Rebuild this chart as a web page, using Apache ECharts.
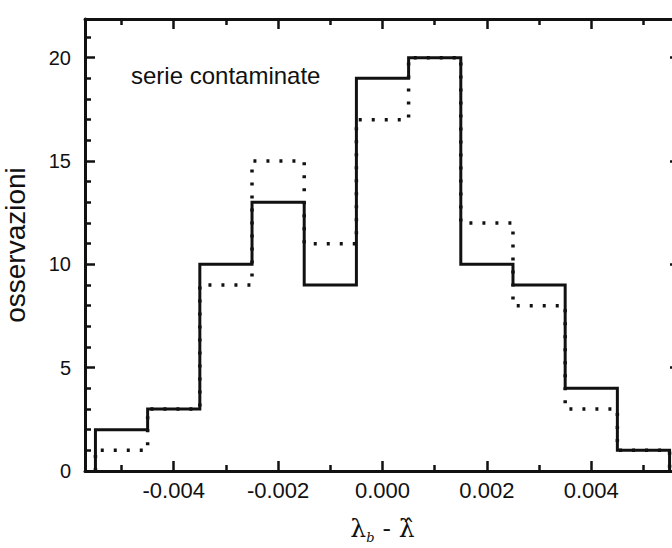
<!DOCTYPE html>
<html><head><meta charset="utf-8">
<script src="https://cdn.jsdelivr.net/npm/echarts@6/dist/echarts.min.js"></script>
<style>html,body{margin:0;padding:0;background:#fff;overflow:hidden}#c{width:672px;height:548px}</style>
</head><body><div id="c"></div>
<script>
// Bin edges (bin width 0.001, centred on -0.005 ... 0.005)
const binEdges = [-0.0055, -0.0045, -0.0035, -0.0025, -0.0015, -0.0005, 0.0005, 0.0015, 0.0025, 0.0035, 0.0045, 0.0055];
// Observations per bin
const solidCounts  = [2, 3, 10, 13, 9, 19, 20, 10, 9, 4, 1];
const dottedCounts = [1, 3, 9, 15, 11, 17, 20, 12, 8, 3, 1];
// Ticks
const xMajorTicks = [-0.004, -0.002, 0, 0.002, 0.004];
const xMinorTicks = [-0.005, -0.003, -0.001, 0.001, 0.003, 0.005];
const yMajorTicks = [0, 5, 10, 15, 20];
const yMinorTicks = [1, 2, 3, 4, 6, 7, 8, 9, 11, 12, 13, 14, 16, 17, 18, 19, 21];
const xRange = [-0.0057, 0.0057];
const yRange = [0, 21.87];
const titleText = 'serie contaminate';
const yName = 'osservazioni';

function stepData(counts) {
  const d = [[binEdges[0], 0]];
  counts.forEach((c, i) => d.push([binEdges[i], c]));
  d.push([binEdges[binEdges.length - 1], 0]);
  return d;
}

const INK = '#111';
const FONT = 'Liberation Sans, Arial, Helvetica, sans-serif';

function xAx(pos, major, opts) {
  return Object.assign({
    type: 'value', min: xRange[0], max: xRange[1], position: pos,
    axisLine: { show: major, onZero: false, lineStyle: { color: INK, width: 3 } },
    axisTick: { show: true, inside: true, length: major ? 10 : 6,
      customValues: major ? xMajorTicks : xMinorTicks,
      lineStyle: { color: INK, width: 2.5 } },
    axisLabel: { show: false },
    splitLine: { show: false }
  }, opts || {});
}
function yAx(pos, major, opts) {
  return Object.assign({
    type: 'value', min: yRange[0], max: yRange[1], position: pos,
    axisLine: { show: major, onZero: false, lineStyle: { color: INK, width: 3 } },
    axisTick: { show: true, inside: true, length: major ? 10 : 6,
      customValues: major ? yMajorTicks : yMinorTicks,
      lineStyle: { color: INK, width: 2.5 } },
    axisLabel: { show: false },
    splitLine: { show: false }
  }, opts || {});
}

const chart = echarts.init(document.getElementById('c'), null, { renderer: 'svg' });
chart.setOption({
  backgroundColor: '#fff',
  animation: false,
  title: {
    text: titleText, left: 131, top: 63, padding: 0,
    textStyle: { fontFamily: FONT, fontSize: 24, fontWeight: 'normal', color: INK }
  },
  grid: { left: 85, width: 595, top: 19, height: 452, containLabel: false, outerBoundsMode: 'none' },
  xAxis: [
    xAx('bottom', true, {
      axisLabel: { show: true, customValues: xMajorTicks, margin: 8,
        fontFamily: FONT, fontSize: 22, color: INK,
        formatter: v => v.toFixed(3) },
      name: '{l|λ}{s|b}{l| - λ\u0302}', nameLocation: 'middle', nameGap: 42,
      nameTextStyle: { rich: {
        l: { fontFamily: 'DejaVu Serif, serif', fontSize: 25, color: INK, lineHeight: 30 },
        s: { fontFamily: 'DejaVu Serif, serif', fontSize: 13, fontStyle: 'italic', color: INK, lineHeight: 30, padding: [18, 0, 0, 0] }
      } }
    }),
    xAx('bottom', false),
    xAx('top', true),
    xAx('top', false)
  ],
  yAxis: [
    yAx('left', true, {
      axisLabel: { show: true, customValues: yMajorTicks, margin: 14,
        fontFamily: FONT, fontSize: 20, color: INK },
      name: yName, nameLocation: 'middle', nameGap: 56,
      nameTextStyle: { fontFamily: FONT, fontSize: 28, color: INK }
    }),
    yAx('left', false),
    yAx('right', true),
    yAx('right', false)
  ],
  series: [
    { type: 'line', name: 'dotted', step: 'end', xAxisIndex: 0, yAxisIndex: 0,
      data: stepData(dottedCounts), showSymbol: false, symbol: 'none',
      lineStyle: { color: INK, width: 3.5, type: [3, 10], cap: 'butt' }, z: 2 },
    { type: 'line', name: 'solid', step: 'end', xAxisIndex: 0, yAxisIndex: 0,
      data: stepData(solidCounts), showSymbol: false, symbol: 'none',
      lineStyle: { color: INK, width: 3, join: 'miter' }, z: 3 }
  ]
});
</script></body></html>
